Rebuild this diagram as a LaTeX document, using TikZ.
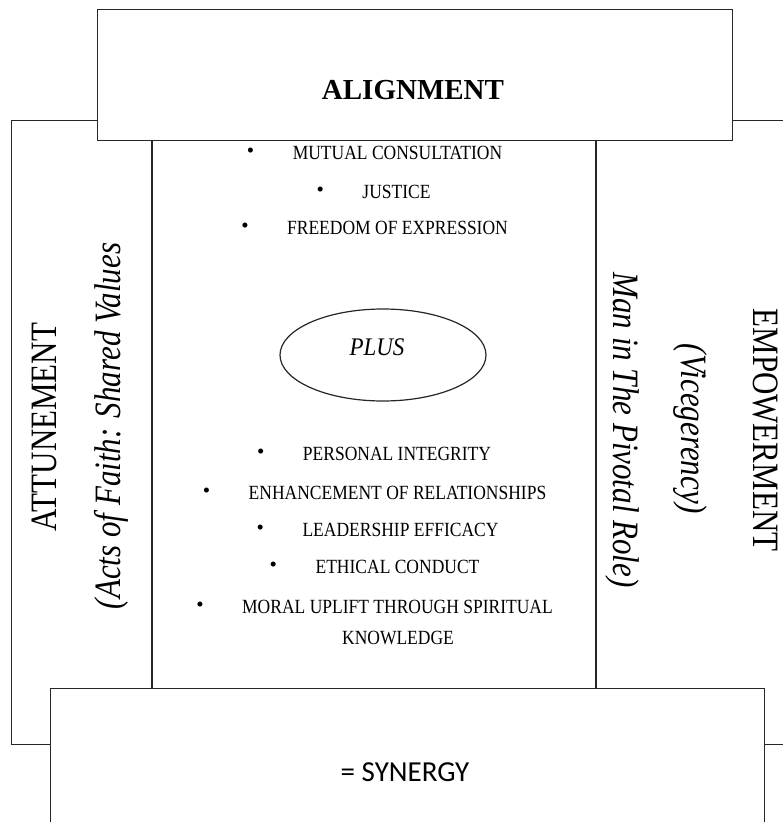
\documentclass[tikz,border=0pt]{standalone}
\usepackage{fontspec}
\setmainfont{Liberation Serif}
\newfontfamily\calib{Carlito}
\usetikzlibrary{shapes.geometric}
\newcommand{\tallx}[2]{\scalebox{1}[#1]{#2}}
\begin{document}
\begin{tikzpicture}[x=1pt,y=-1pt,
  box/.style={draw=black!85, line width=1.4pt, fill=white, inner sep=0pt},
  item/.style={inner sep=0pt, font=\fontsize{17.5}{17.5}\selectfont},
  bul/.style={inner sep=0pt, font=\fontsize{21}{21}\selectfont},
  side/.style={inner sep=0pt, font=\fontsize{31}{31}\selectfont},
  sideit/.style={inner sep=0pt, font=\fontsize{31}{31}\selectfont\itshape}]
\useasboundingbox (0,0) rectangle (783,822);
\clip (0,0) rectangle (783,822);
% outer frame with dividers
\node[box, fill=none, anchor=north west, minimum width=809pt, minimum height=624pt] (frame) at (11,120) {};
\coordinate (d1t) at (152,120); \coordinate (d1b) at (152,744);
\coordinate (d2t) at (596,120); \coordinate (d2b) at (596,744);
\draw[draw=black!85, line width=1.4pt] (d1t) -- (d1b);
\draw[draw=black!85, line width=1.4pt] (d2t) -- (d2b);
% top and bottom boxes
\node[box, anchor=north west, minimum width=635pt, minimum height=131pt] (align) at (97,9) {};
\node[inner sep=0pt, font=\fontsize{29}{29}\selectfont\bfseries] (alignt) at (413,90) {ALIGNMENT};
\node[box, anchor=north west, minimum width=714pt, minimum height=200pt] (syn) at (50,688) {};
\node[inner sep=0pt, font=\calib\fontsize{29}{29}\selectfont] (synt) at (405,772) {= SYNERGY};
% side texts
\node[side, rotate=90] (att) at (44,427) {\tallx{1.2}{ATTUNEMENT}};
\node[sideit, rotate=90] (acts) at (111,426) {\tallx{1.2}{(Acts of Faith: Shared Values}};
\node[sideit, rotate=-90] (man) at (622,430) {\tallx{1.2}{Man in The Pivotal Role)}};
\node[sideit, rotate=-90] (vice) at (690,429) {\tallx{1.2}{(Vicegerency)}};
\node[side, rotate=-90] (emp) at (766,430) {\tallx{1.2}{EMPOWERMENT}};
% ellipse
\node[draw=black!85, line width=1.2pt, ellipse, minimum width=206pt, minimum height=92pt, inner sep=0pt] (plus) at (383,355) {};
\node[inner sep=0pt, font=\fontsize{23}{23}\selectfont\itshape] (plust) at (377,347) {\tallx{1.1}{PLUS}};
% items
\node[item] (i1) at (397.5,153) {\tallx{1.15}{MUTUAL CONSULTATION}};
\node[item] (i2) at (396.5,192) {\tallx{1.15}{JUSTICE}};
\node[item] (i3) at (397.5,228) {\tallx{1.15}{FREEDOM OF EXPRESSION}};
\node[item] (i4) at (397,454) {\tallx{1.15}{PERSONAL INTEGRITY}};
\node[item] (i5) at (397.5,493) {\tallx{1.15}{ENHANCEMENT OF RELATIONSHIPS}};
\node[item] (i6) at (400.5,530) {\tallx{1.15}{LEADERSHIP EFFICACY}};
\node[item] (i7) at (397.5,567) {\tallx{1.15}{ETHICAL CONDUCT}};
\node[item] (i8) at (397.5,607) {\tallx{1.15}{MORAL UPLIFT THROUGH SPIRITUAL}};
\node[item] (i9) at (398,638) {\tallx{1.15}{KNOWLEDGE}};
\foreach \i in {1,...,8}{
  \node[bul] (b\i) at ([xshift=-42pt]i\i.west) {•};
}
\end{tikzpicture}
\end{document}
